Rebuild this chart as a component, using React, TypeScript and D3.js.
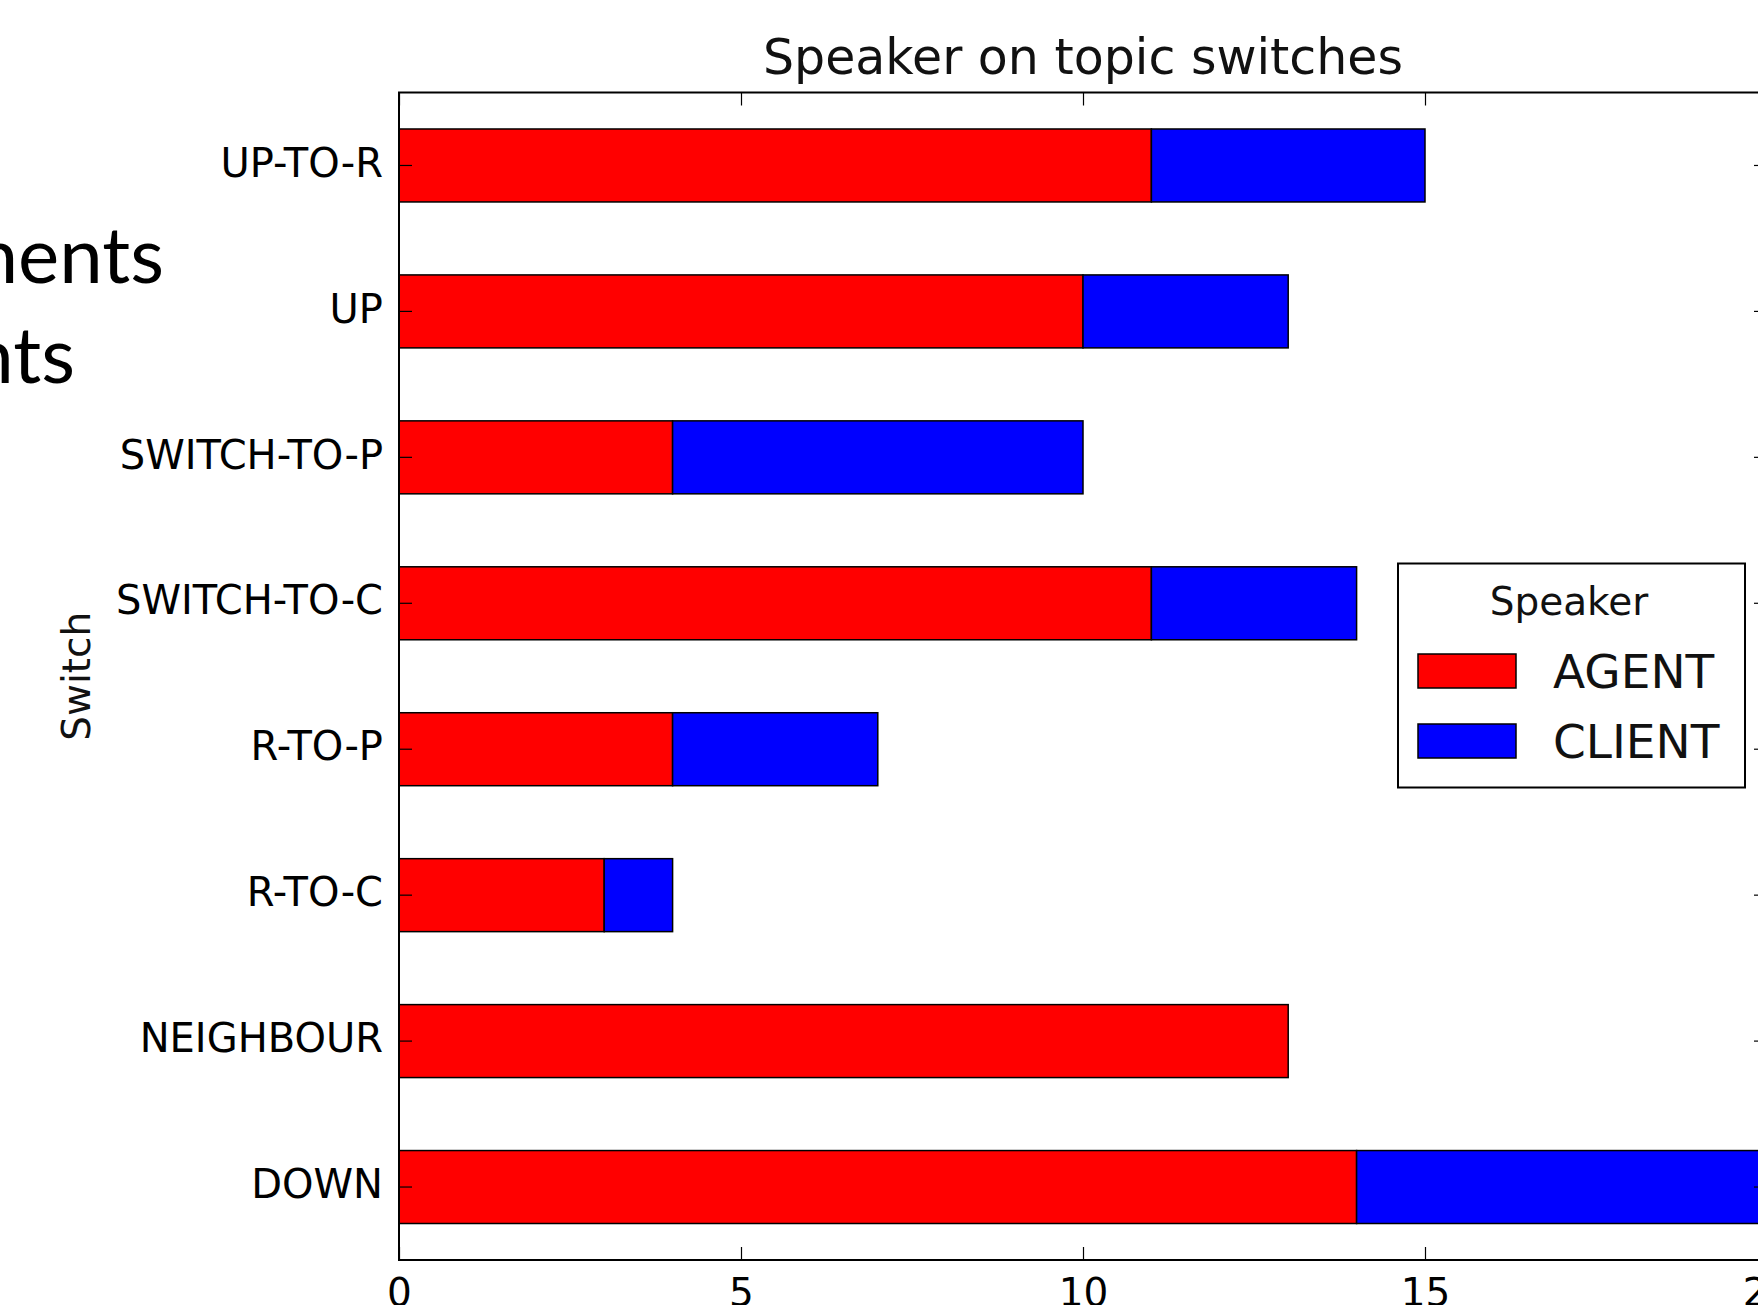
import { useEffect, useRef } from 'react';
import * as d3 from 'd3';

const switches = ['UP-TO-R', 'UP', 'SWITCH-TO-P', 'SWITCH-TO-C', 'R-TO-P', 'R-TO-C', 'NEIGHBOUR', 'DOWN'];
const agent = [11, 10, 4, 11, 4, 3, 13, 14];
const client = [4, 3, 6, 3, 3, 1, 0, 6];
const speakers = ['AGENT', 'CLIENT'];
const speakerColors = ['#ff0000', '#0000ff'];
const xTicks = [0, 5, 10, 15, 20];

const W = 1758;
const H = 1305;

export default function App() {
    const svgRef = useRef<SVGSVGElement>(null);

    useEffect(() => {
        const svg = d3.select(svgRef.current);
        svg.selectAll('*').remove();

        const left = 399, right = 1767, top = 92.5, bottom = 1260;
        const font = 'DejaVu Sans, Verdana, sans-serif';

        svg.append('rect').attr('width', W).attr('height', H).attr('fill', '#fff');

        // slide text peeking in from the left
        const slide = svg.append('g')
            .attr('font-family', 'Lato, "Open Sans", sans-serif')
            .attr('font-size', 78)
            .attr('fill', '#000')
            .attr('text-anchor', 'end');
        slide.append('text').attr('x', 164).attr('y', 283).text('ments');
        slide.append('text').attr('x', 75).attr('y', 383).text('nts');

        // scales
        const x = d3.scaleLinear().domain([0, 20]).range([left, right]);
        const y = d3.scaleBand().domain(switches).range([top, bottom]).paddingInner(0.5).paddingOuter(0.25);

        // stacked bars
        const rows = switches.map((s, i) => ({ key: s, AGENT: agent[i], CLIENT: client[i] }));
        const stacked = d3.stack<any>().keys(speakers)(rows);

        svg.append('g')
            .selectAll('g')
            .data(stacked)
            .join('g')
            .attr('fill', (_d, i) => speakerColors[i])
            .selectAll('rect')
            .data((d) => d.filter((p) => p[1] > p[0]))
            .join('rect')
            .attr('x', (d) => x(d[0]))
            .attr('y', (d) => y(d.data.key)!)
            .attr('width', (d) => x(d[1]) - x(d[0]))
            .attr('height', y.bandwidth())
            .attr('stroke', '#000')
            .attr('stroke-width', 1.5);

        // axes
        const tick = 13;
        const xAxisB = svg.append('g')
            .attr('transform', `translate(0,${bottom})`)
            .call(d3.axisBottom(x).tickValues(xTicks).tickSize(-tick).tickPadding(18).tickFormat(d3.format('d')));
        const xAxisT = svg.append('g')
            .attr('transform', `translate(0,${top})`)
            .call(d3.axisTop(x).tickValues(xTicks).tickSize(-tick).tickFormat(() => ''));
        const yAxisL = svg.append('g')
            .attr('transform', `translate(${left},0)`)
            .call(d3.axisLeft(y).tickSize(-tick).tickPadding(16));
        const yAxisR = svg.append('g')
            .attr('transform', `translate(${right},0)`)
            .call(d3.axisRight(y).tickSize(-tick).tickFormat(() => ''));

        [xAxisB, xAxisT, yAxisL, yAxisR].forEach((g) => {
            g.select('.domain').remove();
            g.selectAll('line').attr('stroke', '#000').attr('stroke-width', 1.2);
            g.selectAll('text').attr('font-family', font).attr('font-size', 39).attr('fill', '#000');
        });
        yAxisL.selectAll('text').attr('font-size', 40).attr('dy', '0.28em');

        // frame
        svg.append('rect')
            .attr('x', left).attr('y', top)
            .attr('width', right - left).attr('height', bottom - top)
            .attr('fill', 'none').attr('stroke', '#000').attr('stroke-width', 2);

        // title
        svg.append('text')
            .attr('x', (left + right) / 2)
            .attr('y', 74)
            .attr('text-anchor', 'middle')
            .attr('font-family', font)
            .attr('font-size', 49)
            .attr('fill', '#111')
            .text('Speaker on topic switches');

        // y label
        svg.append('text')
            .attr('transform', `translate(90,${(top + bottom) / 2}) rotate(-90)`)
            .attr('text-anchor', 'middle')
            .attr('font-family', font)
            .attr('font-size', 39)
            .attr('fill', '#111')
            .text('Switch');

        // legend
        const lg = svg.append('g');
        lg.append('rect')
            .attr('x', 1398).attr('y', 563.5).attr('width', 347).attr('height', 224)
            .attr('fill', '#fff').attr('stroke', '#000').attr('stroke-width', 2);
        lg.append('text')
            .attr('x', 1569).attr('y', 615)
            .attr('text-anchor', 'middle')
            .attr('font-family', font).attr('font-size', 39).attr('fill', '#111')
            .text('Speaker');
        speakers.forEach((s, i) => {
            const yy = 654 + i * 70;
            lg.append('rect')
                .attr('x', 1418).attr('y', yy).attr('width', 98).attr('height', 34)
                .attr('fill', speakerColors[i]).attr('stroke', '#000').attr('stroke-width', 1.5);
            lg.append('text')
                .attr('x', 1553).attr('y', yy + 34)
                .attr('font-family', font).attr('font-size', 47).attr('fill', '#111')
                .text(s);
        });
    }, []);

    return (
        <div style={{ position: 'absolute', left: 0, top: 0, width: W, height: H, overflow: 'hidden' }}>
            <svg ref={svgRef} width={W} height={H} style={{ display: 'block' }} />
        </div>
    );
}
